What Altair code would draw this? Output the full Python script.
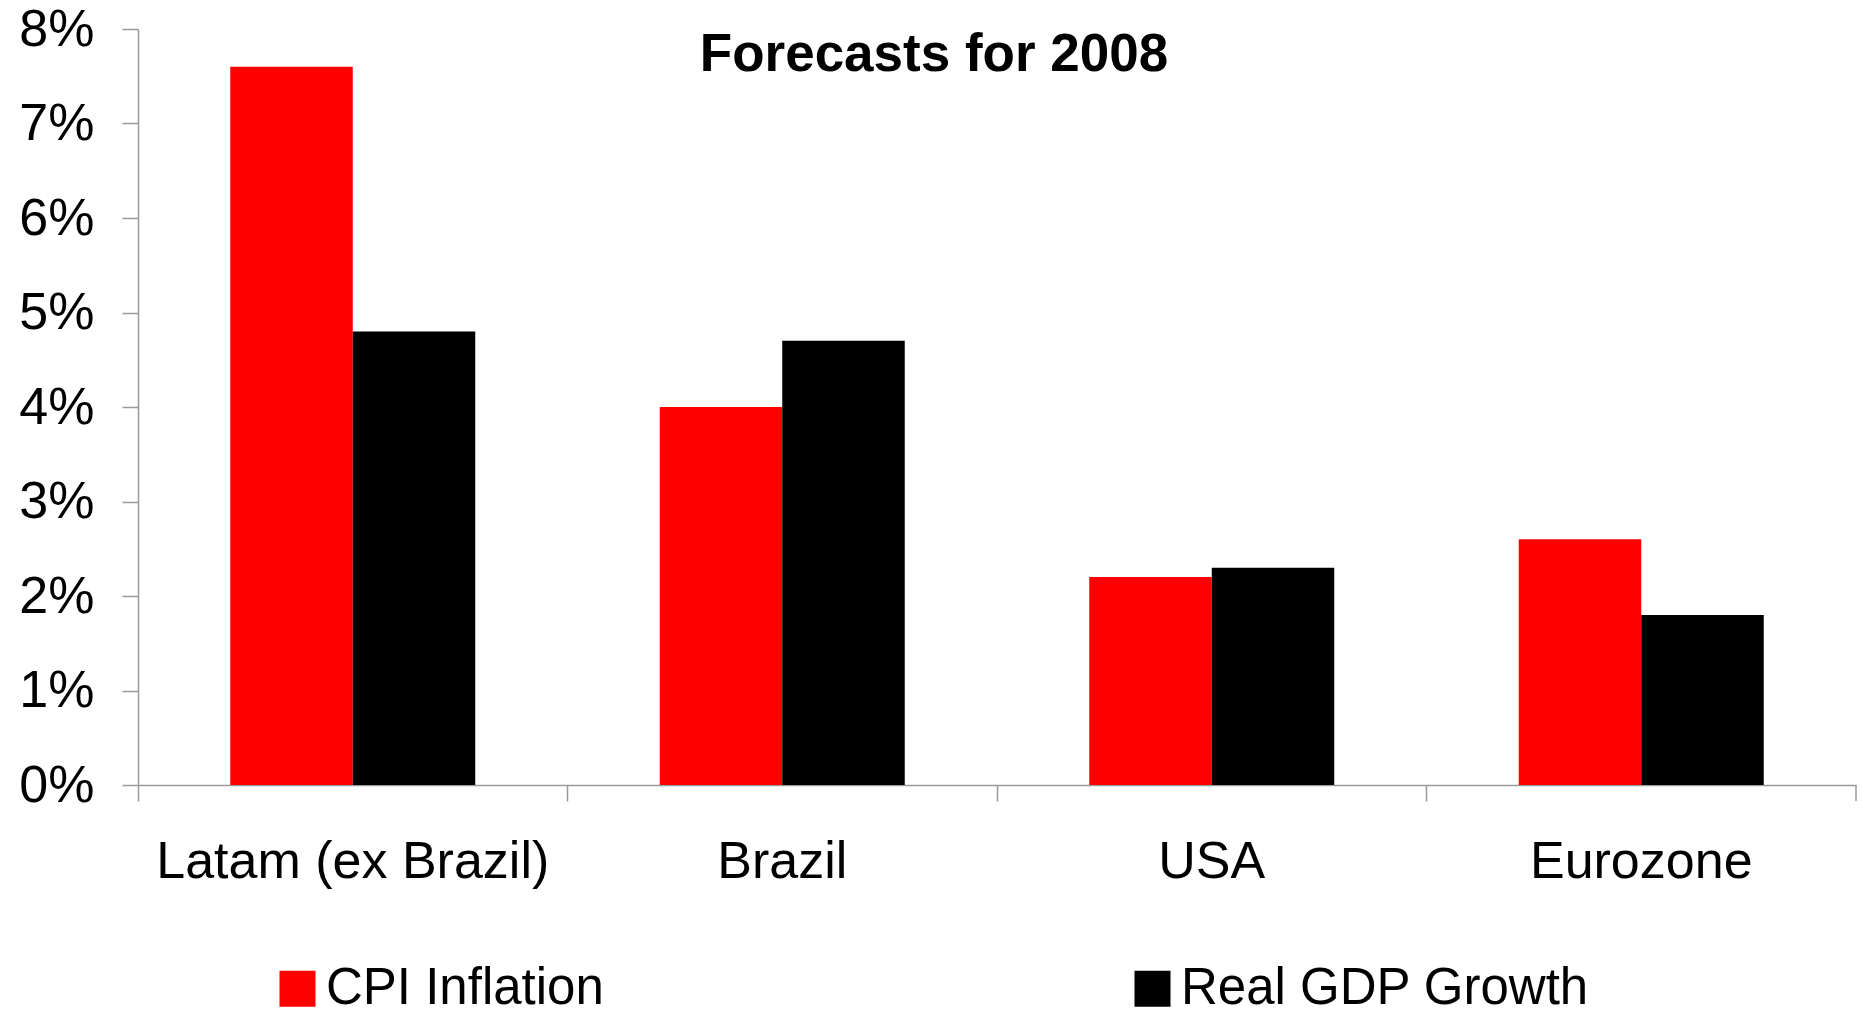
import altair as alt
import pandas as pd

categories = ["Latam (ex Brazil)", "Brazil", "USA", "Eurozone"]
series = ["CPI Inflation", "Real GDP Growth"]
cpi_inflation = [0.076, 0.040, 0.022, 0.026]
real_gdp_growth = [0.048, 0.047, 0.023, 0.018]
colors = ["#ff0000", "#000000"]
y_ticks = [0, 0.01, 0.02, 0.03, 0.04, 0.05, 0.06, 0.07, 0.08]
title_text = "Forecasts for 2008"

rows = []
for i, c in enumerate(categories):
    rows.append({"region": c, "series": series[0], "value": cpi_inflation[i]})
    rows.append({"region": c, "series": series[1], "value": real_gdp_growth[i]})
df = pd.DataFrame(rows)

W, H = 1718, 756
FONT = "Liberation Sans"
GRAY = "#9a9a9a"

bars = alt.Chart(df).mark_bar().encode(
    x=alt.X(
        "region:N",
        sort=categories,
        scale=alt.Scale(paddingInner=0, paddingOuter=0),
        axis=alt.Axis(
            title=None, bandPosition=0, tickSize=16,
            labelPadding=35, labelFontSize=52, labelAngle=0, labelFont=FONT,
            labelColor="#000000", domainColor=GRAY, tickColor=GRAY,
            domainWidth=1.5, tickWidth=1.5, grid=False, labelLimit=800,
            labelOverlap=False, labelBound=False, labelFlush=False,
        ),
    ),
    xOffset=alt.XOffset(
        "series:N", sort=series,
        scale=alt.Scale(paddingInner=0, paddingOuter=0.753),
    ),
    y=alt.Y(
        "value:Q",
        scale=alt.Scale(domain=[0, 0.08], nice=False),
        axis=alt.Axis(
            title=None, format=".0%", values=y_ticks, tickSize=16,
            labelPadding=28, labelFontSize=52, labelFont=FONT,
            labelColor="#000000", domainColor=GRAY, tickColor=GRAY,
            domainWidth=1.5, tickWidth=1.5, grid=False,
        ),
    ),
    color=alt.Color(
        "series:N",
        scale=alt.Scale(domain=series, range=colors),
        legend=alt.Legend(
            title=None, orient="none", legendX=134, legendY=934,
            direction="horizontal", columns=2, columnPadding=523,
            symbolType="square", symbolSize=1296, symbolStrokeWidth=0,
            symbolOpacity=1, labelFontSize=51, labelFont=FONT,
            labelColor="#000000", labelOffset=3, padding=0,
            symbolOffset=0, labelLimit=600,
        ),
    ),
)

end_tick = alt.Chart(pd.DataFrame({"a": [0]})).mark_rule(
    color=GRAY, strokeWidth=1.5
).encode(x=alt.value(W), y=alt.value(H), y2=alt.value(H + 16))

title = alt.Chart(pd.DataFrame({"t": [title_text]})).mark_text(
    fontSize=53, fontWeight="bold", font=FONT, align="center",
    baseline="middle", color="#000000",
).encode(text="t:N", x=alt.value(796), y=alt.value(26))

chart = alt.layer(bars, end_tick, title).properties(
    width=W, height=H,
    padding={"left": 138, "top": 29, "right": 6, "bottom": 226},
    autosize=alt.AutoSizeParams(type="none"),
    background="#ffffff",
).configure_view(stroke=None)

chart.save("out.html", embed_options={"renderer": "svg", "actions": False})
